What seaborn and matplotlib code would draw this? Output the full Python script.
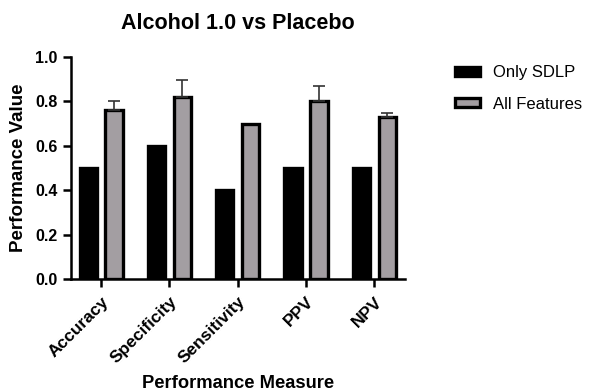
import matplotlib
matplotlib.use("Agg")
import matplotlib.pyplot as plt
import seaborn as sns
import pandas as pd
import numpy as np

measures = ["Accuracy", "Specificity", "Sensitivity", "PPV", "NPV"]
only_sdlp = [0.50, 0.60, 0.40, 0.50, 0.50]
all_features = [0.76, 0.82, 0.70, 0.80, 0.73]
all_features_err = [0.04, 0.075, 0.0, 0.07, 0.02]
groups = ["Only SDLP", "All Features"]
colors = ["#000000", "#A39EA2"]

df = pd.DataFrame({
    "Measure": measures * 2,
    "Value": only_sdlp + all_features,
    "Group": [groups[0]] * len(measures) + [groups[1]] * len(measures),
})

sns.set_theme(style="ticks")
plt.rcParams["font.family"] = ["Liberation Sans", "DejaVu Sans"]
for key in ["text.color", "axes.labelcolor", "xtick.color", "ytick.color"]:
    plt.rcParams[key] = "black"

fig = plt.figure(figsize=(5.9, 3.91), dpi=100)
ax = fig.add_axes([71 / 590, 1 - 279 / 391, (405 - 71) / 590, (279 - 57) / 391])

sns.barplot(data=df, x="Measure", y="Value", hue="Group", order=measures,
            hue_order=groups, palette=colors, width=0.76, gap=0.34,
            errorbar=None, edgecolor="black", linewidth=2.4, ax=ax,
            saturation=1)

# upper error bars on the "All Features" bars
feat_bars = [p for p in ax.patches if p.get_height() > 0][len(measures):2 * len(measures)]
for bar, val, err in zip(feat_bars, all_features, all_features_err):
    if err > 0:
        cx = bar.get_x() + bar.get_width() / 2
        ax.errorbar(cx, val, yerr=[[0], [err]], fmt="none", ecolor="#333333",
                    elinewidth=1.2, capsize=4, capthick=1.2, zorder=1)

ax.set_ylim(0, 1.0)
ax.set_xlim(-0.44, 4.45)
ax.set_yticks(np.arange(0, 1.01, 0.2))
ax.set_yticklabels([f"{v:.1f}" for v in np.arange(0, 1.01, 0.2)],
                   fontsize=11.5, fontweight="bold")
ax.set_xticks(range(len(measures)))
ax.set_xticklabels(measures, rotation=45, ha="right", rotation_mode="anchor",
                   fontsize=12.5, fontweight="bold")
ax.tick_params(axis="both", width=1.8, length=6, color="black")
ax.tick_params(axis="x", pad=5)
for side in ["left", "bottom"]:
    ax.spines[side].set_linewidth(1.8)
    ax.spines[side].set_color("black")
sns.despine(ax=ax)

ax.set_xlabel("Performance Measure", fontsize=13.2, fontweight="bold", labelpad=6)
ax.set_ylabel("Performance Value", fontsize=13.5, fontweight="bold", labelpad=6)
ax.set_title("Alcohol 1.0 vs Placebo", fontsize=15.5, fontweight="bold", pad=20)

leg = ax.legend(loc="upper left", bbox_to_anchor=(455 / 590, 1 - 65 / 391),
                bbox_transform=fig.transFigure, frameon=False, fontsize=12,
                handlelength=1.5, handleheight=0.45, labelspacing=1.0,
                handletextpad=0.75, borderpad=0, borderaxespad=0)
for t in leg.get_texts():
    t.set_fontweight("normal")

fig.savefig("out.png", dpi=100)
